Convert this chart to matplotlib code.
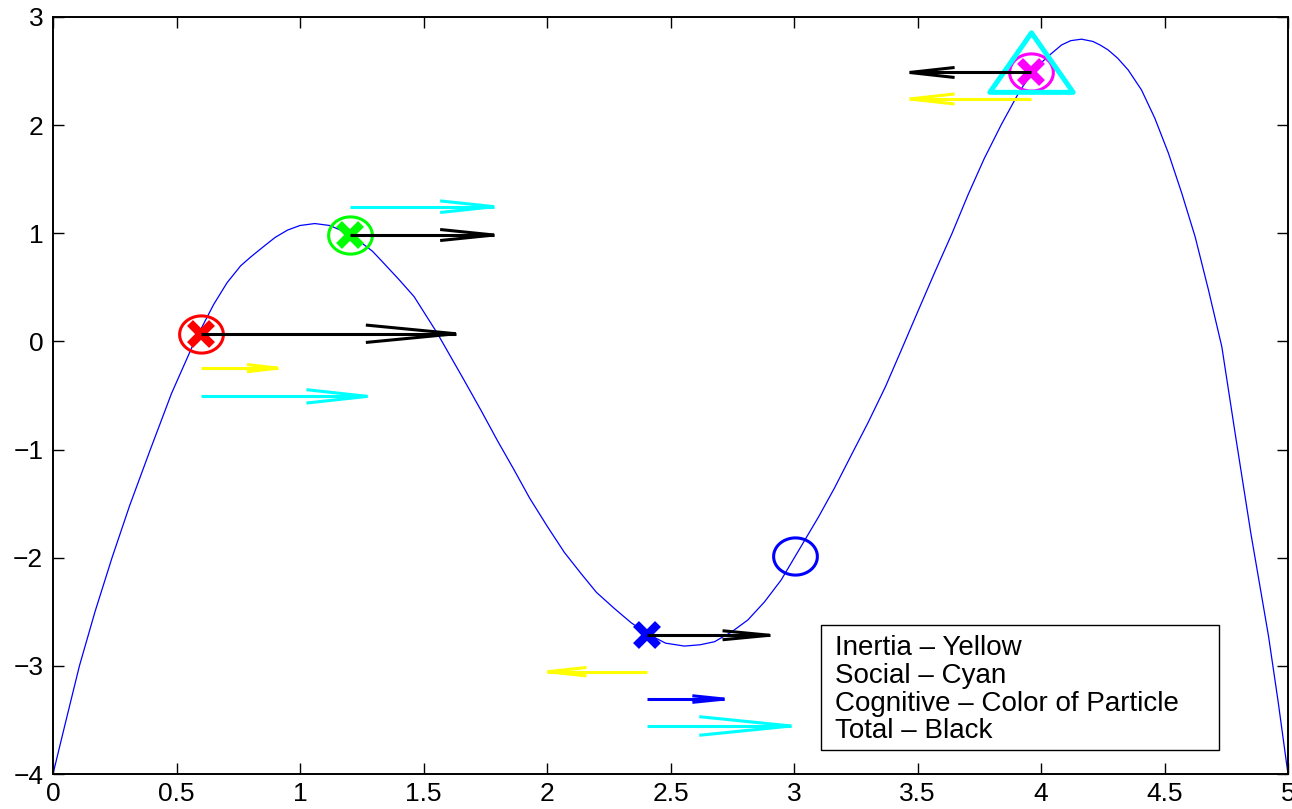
import numpy as np
import matplotlib
matplotlib.use("Agg")
from matplotlib import pyplot as plt
from matplotlib.patches import Rectangle
from matplotlib.path import Path
from matplotlib.ticker import FuncFormatter

plt.rcParams['font.family'] = ['Liberation Sans', 'DejaVu Sans']

# fitness curve
curve_x = [0, 0.05, 0.107, 0.17, 0.239, 0.31, 0.394, 0.48, 0.573, 0.65, 0.705,
           0.76, 0.80, 0.854, 0.90, 0.95, 1.0, 1.06, 1.12, 1.202, 1.25, 1.293,
           1.327, 1.40, 1.462, 1.556, 1.664, 1.732, 1.80, 1.867, 1.93, 2.002,
           2.07, 2.137, 2.20, 2.272, 2.34, 2.404, 2.48, 2.556, 2.62, 2.678,
           2.745, 2.813, 2.88, 2.948, 3.029, 3.10, 3.164, 3.23, 3.300, 3.37,
           3.435, 3.50, 3.570, 3.64, 3.705, 3.77, 3.840, 3.91, 3.975, 4.043,
           4.083, 4.12, 4.164, 4.21, 4.24, 4.272, 4.31, 4.353, 4.407, 4.461,
           4.516, 4.570, 4.624, 4.678, 4.732, 4.786, 4.85, 4.921, 4.96, 5.0]
curve_y = [-4.0, -3.53, -3.0, -2.5, -2.0, -1.52, -1.0, -0.48, 0.0, 0.34, 0.544,
           0.70, 0.78, 0.88, 0.963, 1.03, 1.072, 1.09, 1.072, 0.993, 0.91, 0.835,
           0.753, 0.574, 0.414, 0.075, -0.357, -0.634, -0.92, -1.189, -1.45, -1.713,
           -1.95, -2.144, -2.32, -2.468, -2.60, -2.70, -2.79, -2.817, -2.805, -2.777,
           -2.69, -2.576, -2.41, -2.206, -1.894, -1.62, -1.355, -1.06, -0.75, -0.42,
           -0.077, 0.27, 0.64, 1.00, 1.358, 1.69, 2.008, 2.30, 2.524, 2.664,
           2.741, 2.781, 2.795, 2.774, 2.74, 2.695, 2.62, 2.51, 2.325, 2.063,
           1.74, 1.37, 0.968, 0.476, -0.048, -0.85, -1.78, -2.723, -3.33, -4.0]

# particles (current position) and their personal bests
part_x = [0.6, 1.202, 2.405, 3.96]
part_y = [0.071, 0.984, -2.717, 2.487]
part_col = ['red', 'lime', 'blue', 'magenta']
pbest_x = [0.6, 1.202, 3.004, 3.96]
pbest_y = [0.071, 0.984, -1.984, 2.487]
gbest_x = 3.96
gbest_y = 2.487

# velocity components drawn as horizontal arrows: start x, start y, end x
arr_x0 = [0.6, 0.6, 0.6, 1.202, 1.202, 2.405, 2.405, 2.405, 2.405, 3.96, 3.96]
arr_y0 = [0.071, -0.247, -0.508, 0.984, 1.246, -2.717, -3.054, -3.307, -3.556, 2.487, 2.242]
arr_x1 = [1.631, 0.911, 1.273, 1.786, 1.786, 2.901, 2.002, 2.718, 2.989, 3.468, 3.468]
arr_col = ['black', 'yellow', 'cyan', 'black', 'cyan', 'black', 'yellow', 'blue', 'cyan', 'black', 'yellow']
# head length / half width in pixels
arr_hl = [90, 31, 61, 54, 54, 47, 39, 32, 92, 45, 45]
arr_hw = [8.7, 3.6, 6.7, 5.5, 5.8, 4.5, 4.2, 3.3, 9.3, 5.0, 5.0]

legend_lines = ["Inertia \u2013 Yellow", "Social \u2013 Cyan",
                "Cognitive \u2013 Color of Particle", "Total \u2013 Black"]

fig = plt.figure(figsize=(12.92, 8.09), dpi=100)
ax = fig.add_axes([53/1292, 35/809, 1235/1292, 757/809])
ax.set_xlim(0, 5)
ax.set_ylim(-4, 3)

ax.plot(curve_x, curve_y, color='blue', lw=0.9, zorder=2)

# slightly wide circle, as in the picture
t = np.linspace(0, 2*np.pi, 73)
ell = Path(np.column_stack([np.cos(t), 0.85*np.sin(t)]))
for i in range(len(pbest_x)):
    ax.plot(pbest_x[i], pbest_y[i], marker=ell, ms=31.5, mfc='none',
            mec=part_col[i], mew=2.2, ls='none', zorder=3)

for i in range(len(part_x)):
    ax.plot(part_x[i], part_y[i], marker='x', ms=16, mew=6,
            color=part_col[i], ls='none', zorder=4)

tri = Path([[0, 40], [-42, -20], [42, -20], [0, 40]],
           [Path.MOVETO, Path.LINETO, Path.LINETO, Path.CLOSEPOLY])
ax.plot(gbest_x, gbest_y, marker=tri, ms=60, mfc='none', mec='cyan',
        mew=3.6, ls='none', zorder=4)

# quiver-like open arrows: shaft plus two barbs meeting at the tip
inv = ax.transData.inverted()
for i in range(len(arr_x0)):
    x0, y0, x1 = arr_x0[i], arr_y0[i], arr_x1[i]
    ax.plot([x0, x1], [y0, y0], color=arr_col[i], lw=2.2,
            solid_capstyle='butt', zorder=5)
    tip = ax.transData.transform((x1, y0))
    d = np.sign(x1 - x0)
    for s in (1, -1):
        b = inv.transform((tip[0] - d*arr_hl[i], tip[1] + s*arr_hw[i]))
        ax.plot([b[0], x1], [b[1], y0], color=arr_col[i], lw=2.2,
                solid_capstyle='butt', zorder=5)

ax.set_xticks(np.arange(0, 5.01, 0.5))
ax.set_yticks(np.arange(-4, 3.01, 1))
fmt = FuncFormatter(lambda v, p: ('%g' % v).replace('-', '\u2212'))
ax.xaxis.set_major_formatter(fmt)
ax.yaxis.set_major_formatter(fmt)
ax.tick_params(direction='in', length=8, width=1, top=True, right=True,
               labelsize=19)
ax.tick_params(axis='x', pad=6)
ax.tick_params(axis='y', pad=7)
for s in ax.spines.values():
    s.set_linewidth(1.4)

# text box in lower right
ax.add_patch(Rectangle((0.622, 0.0317), 0.322, 0.165, transform=ax.transAxes,
                       fill=False, ec='black', lw=1.0, zorder=6))
for k, line in enumerate(legend_lines):
    ax.text(0.633, 0.1572 - k*0.0367, line, transform=ax.transAxes,
            fontsize=20, va='baseline', ha='left', zorder=7)

plt.savefig("out.png", dpi=100)
